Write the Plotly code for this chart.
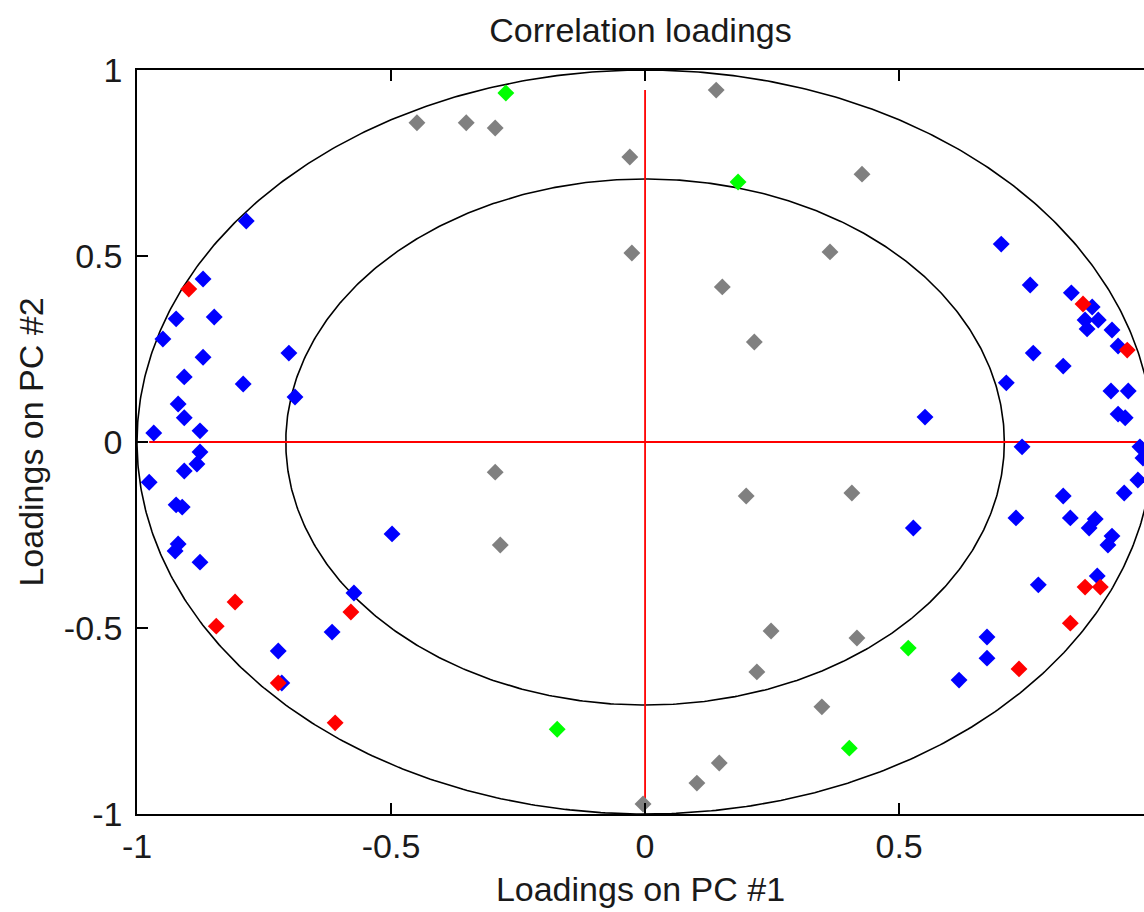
import numpy as np
import plotly.graph_objects as go

# ---------------- data ----------------
gray_x = [-0.449, -0.352, -0.295, 0.140, -0.030, -0.026, 0.427, 0.364, 0.152, 0.215,
          -0.295, -0.285, 0.199, 0.407, 0.248, 0.417, 0.220, 0.348, 0.146, 0.102, -0.004]
gray_y = [0.858, 0.858, 0.844, 0.946, 0.766, 0.508, 0.720, 0.511, 0.417, 0.269,
          -0.081, -0.277, -0.145, -0.137, -0.508, -0.527, -0.618, -0.712, -0.863, -0.917, -0.973]

green_x = [-0.274, 0.183, -0.173, 0.518, 0.402]
green_y = [0.938, 0.699, -0.772, -0.554, -0.823]

blue_x = [-0.785, -0.870, -0.923, -0.848, -0.949, -0.870, -0.701, -0.907, -0.791, -0.689,
          -0.919, -0.907, -0.967, -0.876, -0.876, -0.882, -0.907, -0.976, -0.923, -0.911,
          -0.919, -0.925, -0.876, -0.498, -0.573, -0.616, -0.722, -0.715,
          0.701, 0.758, 0.839, 0.880, 0.866, 0.892, 0.870, 0.919, 0.931, 0.764,
          0.823, 0.711, 0.917, 0.951, 0.551, 0.931, 0.945, 0.742, 0.974, 0.980,
          0.970, 0.943, 0.823, 0.528, 0.730, 0.837, 0.886, 0.874, 0.919, 0.911,
          0.774, 0.890, 0.673, 0.673, 0.618]
blue_y = [0.594, 0.438, 0.331, 0.336, 0.277, 0.228, 0.239, 0.175, 0.156, 0.121,
          0.102, 0.065, 0.024, 0.030, -0.027, -0.059, -0.078, -0.108, -0.169, -0.175,
          -0.274, -0.293, -0.323, -0.247, -0.406, -0.511, -0.562, -0.648,
          0.532, 0.422, 0.401, 0.363, 0.328, 0.328, 0.304, 0.301, 0.258, 0.239,
          0.204, 0.159, 0.137, 0.137, 0.067, 0.075, 0.065, -0.013, -0.013, -0.043,
          -0.102, -0.137, -0.145, -0.231, -0.204, -0.204, -0.207, -0.231, -0.253, -0.277,
          -0.384, -0.360, -0.524, -0.581, -0.640]

red_x = [-0.898, -0.807, -0.844, -0.722, -0.610, -0.579, 0.862, 0.949, 0.866, 0.896, 0.837, 0.736]
red_y = [0.411, -0.430, -0.495, -0.648, -0.755, -0.457, 0.371, 0.247, -0.390, -0.390, -0.487, -0.610]

circle_radii = [1.0, 0.7071]
tick_vals = [-1, -0.5, 0, 0.5, 1]
tick_text = ["-1", "-0.5", "0", "0.5", "1"]

title_text = "Correlation loadings"
xlabel = "Loadings on PC #1"
ylabel = "Loadings on PC #2"

# ---------------- figure ----------------
FONT = "Liberation Sans, Arial, sans-serif"
TXT = "#1a1a1a"
FS = 34

fig = go.Figure()

theta = np.linspace(0, 2 * np.pi, 721)
for r in circle_radii:
    fig.add_trace(go.Scatter(x=r * np.cos(theta), y=r * np.sin(theta), mode="lines",
                             line=dict(color="black", width=1.6), hoverinfo="skip",
                             showlegend=False))

all_x = gray_x + green_x + blue_x + red_x
all_y = gray_y + green_y + blue_y + red_y
fig.add_trace(go.Scatter(x=[min(all_x), max(all_x)], y=[0, 0], mode="lines",
                         line=dict(color="red", width=1.8), showlegend=False, hoverinfo="skip"))
fig.add_trace(go.Scatter(x=[0, 0], y=[min(all_y), max(all_y)], mode="lines",
                         line=dict(color="red", width=1.8), showlegend=False, hoverinfo="skip"))

for xs, ys, col in [(gray_x, gray_y, "#808080"), (green_x, green_y, "#00ff00"),
                    (blue_x, blue_y, "#0000ff"), (red_x, red_y, "#ff0000")]:
    fig.add_trace(go.Scatter(x=xs, y=ys, mode="markers",
                             marker=dict(symbol="diamond", size=13, color=col, line=dict(width=0)),
                             showlegend=False))

# dummy trace so the top mirror axis is drawn
fig.add_trace(go.Scatter(x=[None], y=[None], xaxis="x2", yaxis="y", showlegend=False))

axis_common = dict(showgrid=False, zeroline=False, showline=True, linecolor="black", linewidth=1.5,
                   ticks="inside", ticklen=11, tickwidth=1.5, tickcolor="black",
                   tickmode="array", tickvals=tick_vals, ticktext=tick_text,
                   tickfont=dict(family=FONT, size=FS, color=TXT))

fig.update_layout(
    width=1144, height=912,
    margin=dict(l=137, r=0, t=70, b=98),
    paper_bgcolor="white", plot_bgcolor="white",
    showlegend=False,
    title=dict(text=title_text, x=0.5, xref="paper", xanchor="center", y=1 - 30 / 912,
               yanchor="middle", yref="container", font=dict(family=FONT, size=FS, color=TXT)),
    xaxis=dict(range=[-1, 0.982], title=dict(text=xlabel, font=dict(family=FONT, size=FS, color=TXT),
                                             standoff=14),
               ticklabelstandoff=1, **axis_common),
    xaxis2=dict(overlaying="x", matches="x", side="top", anchor="y", showticklabels=False,
                **{k: v for k, v in axis_common.items() if k != "tickfont"}),
    yaxis=dict(range=[-1, 1], title=dict(text=ylabel, font=dict(family=FONT, size=FS, color=TXT),
                                         standoff=10),
               ticklabelstandoff=6, **axis_common),
)

fig.write_html("out.html")
